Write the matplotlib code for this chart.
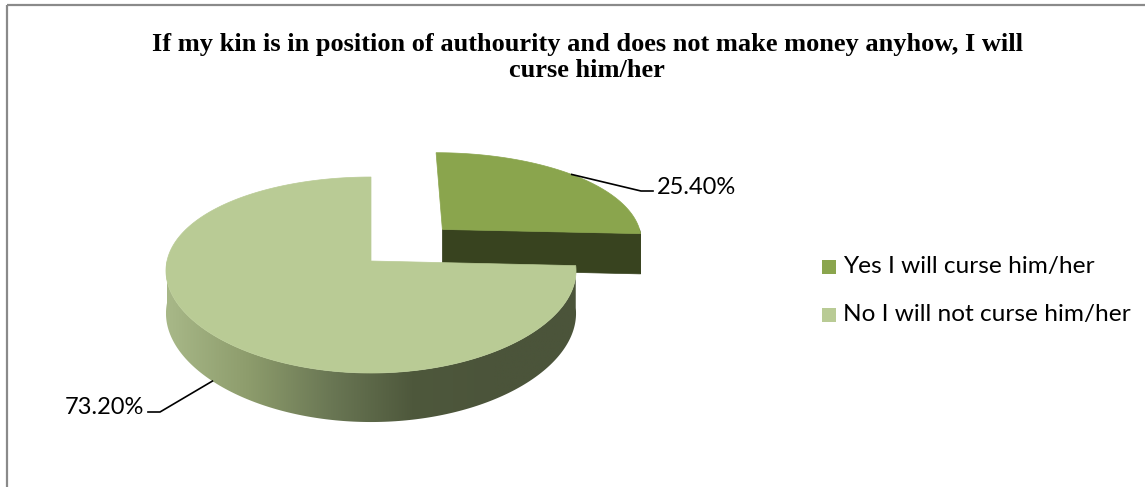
import numpy as np
import matplotlib.pyplot as plt
from matplotlib.patches import Polygon, Rectangle
from matplotlib.colors import LinearSegmentedColormap

# survey answers (percent of respondents)
labels = ['Yes I will curse him/her', 'No I will not curse him/her']
values = [25.4, 73.2]
value_text = ['25.40%', '73.20%']
top_colors = ['#8aa54d', '#b9cb95']
side_colors = ['#38431f', '#4b543a']

title_lines = ['If my kin is in position of authourity and does not make money anyhow, I will',
               'curse him/her']

# 3-D pie projection (figure works in pixel units)
cx, cy = 371, 261
rx, rz = 204, 96
persp_x, persp_y = 0.10, 0.143
depth = 42
explode = [0.5, 0.0]


def proj(X, Z, h=0.0):
    X = np.asarray(X, float)
    sx = 1.0 / (1.0 + persp_x * Z)
    sy = 1.0 / (1.0 + persp_y * Z)
    return cx + rx * X * sx, cy - rz * Z * sy + h * sy


def arc(ox, oz, t0, t1, h=0.0, n=200):
    t = np.radians(np.linspace(t0, t1, n))
    return proj(ox + np.cos(t), oz + np.sin(t), h)


def poly(xs, ys, **kw):
    return Polygon(np.column_stack([xs, ys]), closed=True, **kw)


fig = plt.figure(figsize=(11.45, 4.87), dpi=100)
ax = fig.add_axes([0, 0, 1, 1])

# chart frame
ax.add_patch(Rectangle((7, 5), 1300, 600, fill=False, edgecolor='#8a8a8a', lw=1.6))

for k, line in enumerate(title_lines):
    ax.text(587, 51 + 26 * k, line, ha='center', va='baseline', family='Liberation Serif',
            fontweight='bold', fontsize=19)

# slice angles, clockwise from 12 o'clock
fracs = np.array(values) / sum(values)
starts = 90 - 360 * np.concatenate([[0], np.cumsum(fracs)[:-1]])
ends = starts - 360 * fracs
mids = (starts + ends) / 2

# --- "Yes" slice (exploded, drawn first since it sits behind) ---
i = 0
ox = explode[i] * np.cos(np.radians(mids[i]))
oz = explode[i] * np.sin(np.radians(mids[i]))
t0 = np.radians(ends[i])
ex, ez = ox + np.cos(t0), oz + np.sin(t0)
cut = [proj(ox, oz, 0), proj(ex, ez, 0), proj(ex, ez, depth), proj(ox, oz, depth)]
ax.add_patch(Polygon([(float(a), float(b)) for a, b in cut], closed=True,
                     facecolor=side_colors[i], edgecolor=side_colors[i], lw=0.5))
xa, ya = arc(ox, oz, ends[i], 0, 0, 20)
xb, yb = arc(ox, oz, 0, ends[i], depth, 20)
ax.add_patch(poly(np.r_[xa, xb], np.r_[ya, yb], facecolor=side_colors[i],
                  edgecolor=side_colors[i], lw=0.5))
xa, ya = arc(ox, oz, ends[i], starts[i])
c0 = proj(ox, oz)
ax.add_patch(poly(np.r_[c0[0], xa], np.r_[c0[1], ya], facecolor=top_colors[i],
                  edgecolor=top_colors[i], lw=0.5))
m = np.radians(mids[i])
yes_anchor = proj(ox + np.cos(m), oz + np.sin(m))

# --- "No" slice: spans 90 deg counter-clockwise round to its start angle ---
i = 1
hi = starts[i] + 360
xa, ya = arc(0, 0, 180, hi, 0)
xb, yb = arc(0, 0, hi, 180, depth)
side = poly(np.r_[xa, xb], np.r_[ya, yb], facecolor='none', edgecolor='none')
ax.add_patch(side)
grad = LinearSegmentedColormap.from_list('side', ['#a8b888', '#8d9c6c', '#6a7754',
                                                  '#4e583c', '#4b543a', '#4b543a'])
img = ax.imshow(np.linspace(0, 1, 256)[None, :], cmap=grad, aspect='auto',
                extent=[xa.min(), xa.max(), yb.max() + 2, ya.min() - 2], zorder=1)
img.set_clip_path(side)

xa, ya = arc(0, 0, 90, hi, 0, 400)
c0 = proj(0, 0)
ax.add_patch(poly(np.r_[c0[0], xa], np.r_[c0[1], ya], facecolor=top_colors[i],
                  edgecolor=top_colors[i], lw=0.5, zorder=2))
m = np.radians(mids[i] + 360)
no_anchor = proj(np.cos(m), np.sin(m), depth)

# value labels with leader lines
ax.plot([yes_anchor[0], 641, 653], [yes_anchor[1], 191, 191], color='black', lw=1.2, zorder=3)
ax.text(657, 187, value_text[0], ha='left', va='center', family='Lato', fontsize=17)
ax.plot([no_anchor[0], 160, 148], [no_anchor[1], 412, 412], color='black', lw=1.2, zorder=3)
ax.text(144, 408, value_text[1], ha='right', va='center', family='Lato', fontsize=17)

# legend
for k, (lab, col) in enumerate(zip(labels, top_colors)):
    y = 267 + 48 * k
    ax.add_patch(Rectangle((822, y - 7), 14, 14, facecolor=col, edgecolor='none'))
    ax.text(843, y, lab, ha='left', va='center', family='Lato', fontsize=17.6)

ax.set_xlim(0, 1145)
ax.set_ylim(487, 0)
ax.axis('off')
fig.savefig('out.png', dpi=100)
